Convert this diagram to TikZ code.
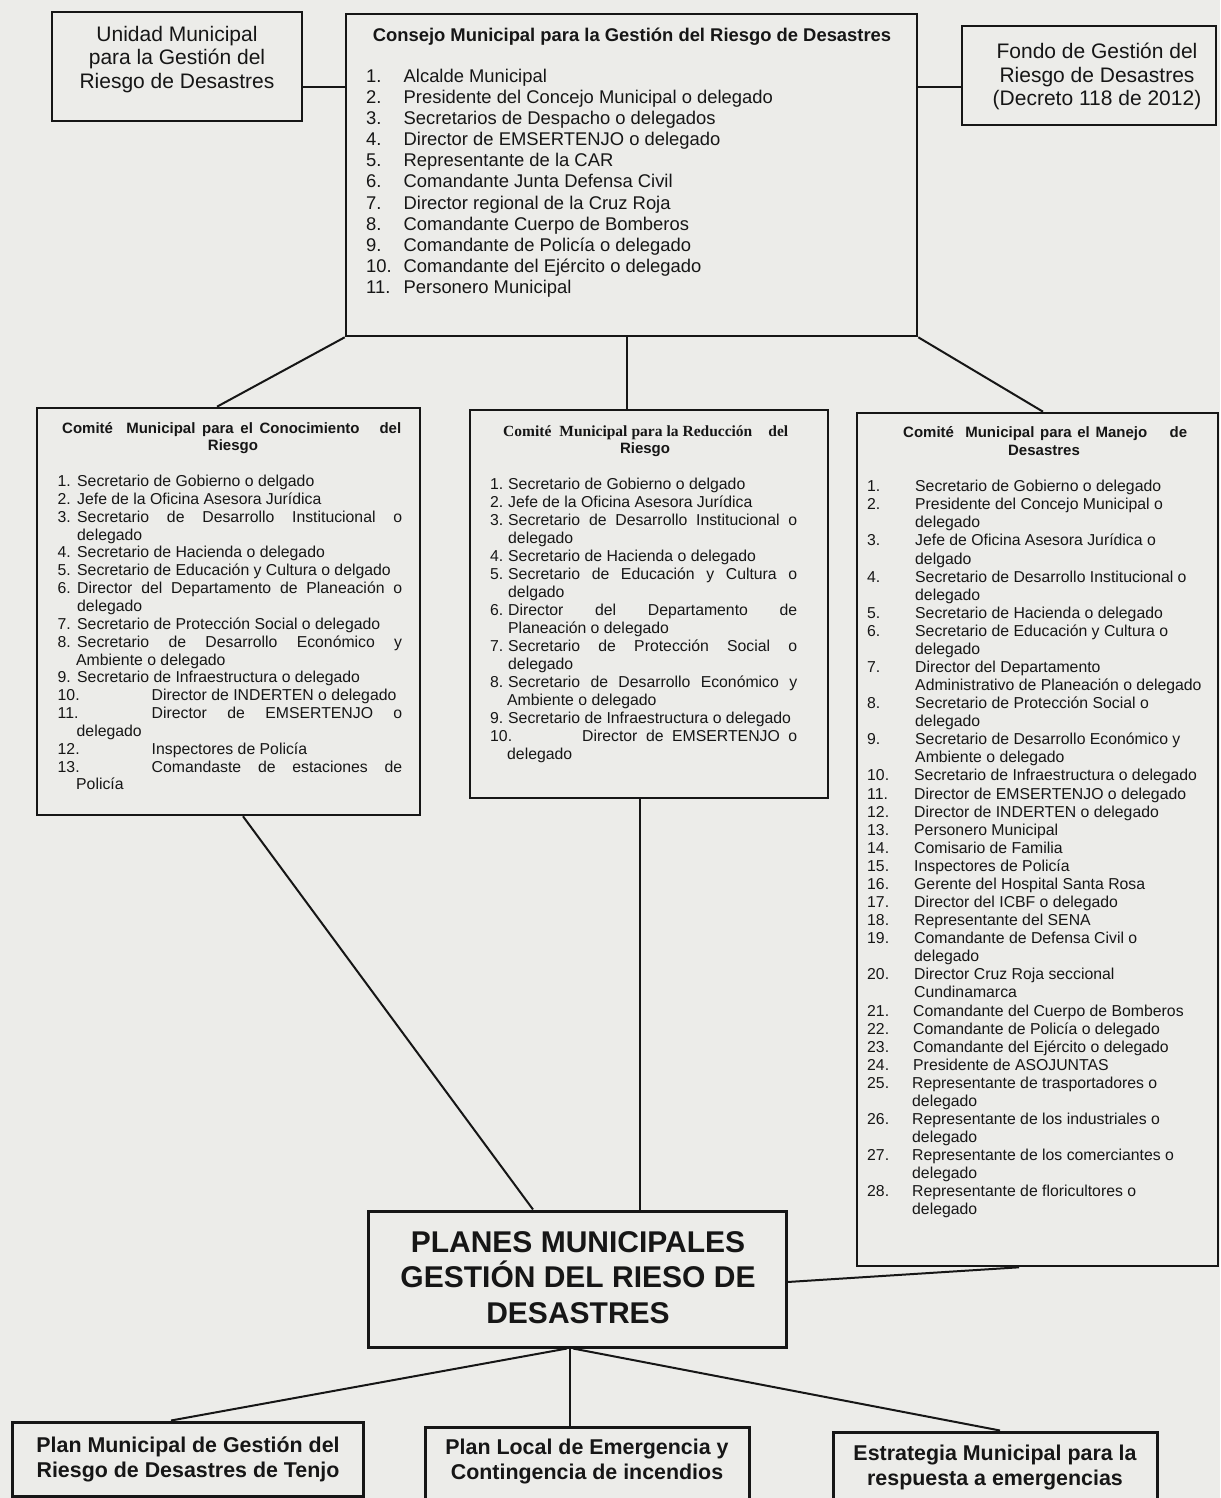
\documentclass[tikz,border=0pt]{standalone}
\usepackage{fontspec}
\setmainfont{Liberation Sans}
\newfontfamily\tnrfont{Liberation Serif}
\definecolor{bgc}{RGB}{236,236,233}
\definecolor{ink}{RGB}{22,22,22}
\newcommand\fsz[2]{\fontsize{#1pt}{#2pt}\selectfont}
\newcommand\litem[4]{\par\hangindent=#3pt\hangafter=1\noindent\makebox[#2pt][l]{#1}#4}
\begin{document}
\begin{tikzpicture}[x=1pt,y=-1pt,
  box/.style={draw=ink, line width=2.6pt, inner sep=0pt},
  bigbox/.style={draw=ink, line width=3pt, inner sep=0pt},
  conn/.style={draw=ink, line width=2pt},
  txt/.style={inner sep=0pt, text=ink},
]
\clip (0,0) rectangle (1220,1498);
\fill[bgc] (0,0) rectangle (1220,1498);

% ---------- boxes ----------
\node[box, minimum width=250pt, minimum height=109pt] (unidad) at (177,66.5) {};
\node[box, minimum width=571pt, minimum height=322pt] (consejo) at (631.5,175) {};
\node[box, minimum width=254pt, minimum height=99pt] (fondo) at (1089,75.5) {};
\node[box, minimum width=383pt, minimum height=407pt] (conoc) at (228.5,611.5) {};
\node[box, minimum width=358pt, minimum height=388pt] (reduc) at (649,604) {};
\node[box, minimum width=361pt, minimum height=853pt] (manejo) at (1037.5,839.5) {};
\node[bigbox, minimum width=418pt, minimum height=136pt] (planes) at (577,1279) {};
\node[bigbox, minimum width=351pt, minimum height=74pt] (pm) at (187.5,1459) {};
\node[bigbox, minimum width=324pt, minimum height=75pt] (pl) at (587,1464.5) {};
\node[bigbox, minimum width=324pt, minimum height=74pt] (est) at (995,1469) {};

% ---------- helper coordinates ----------
\coordinate (h87) at (0,87);
\coordinate (h1282) at (0,1282);
\coordinate (x217) at (217,0);
\coordinate (x627) at (627,0);
\coordinate (x1043) at (1043,0);
\coordinate (x243) at (243,0);
\coordinate (x533) at (533,0);
\coordinate (x640) at (640,0);
\coordinate (x1019) at (1019,0);
\coordinate (x567) at (567,0);
\coordinate (x171) at (171,0);
\coordinate (x570) at (570,0);
\coordinate (x573) at (573,0);
\coordinate (x1000) at (1000,0);

% ---------- connectors ----------
\draw[conn] (unidad.east |- h87) -- (consejo.west |- h87);
\draw[conn] (consejo.east |- h87) -- (fondo.west |- h87);
\draw[conn] (consejo.south west) -- (conoc.north -| x217);
\draw[conn] (consejo.south -| x627) -- (reduc.north -| x627);
\draw[conn] (consejo.south east) -- (manejo.north -| x1043);
\draw[conn] (conoc.south -| x243) -- (planes.north -| x533);
\draw[conn] (reduc.south -| x640) -- (planes.north -| x640);
\draw[conn] (planes.east |- h1282) -- (manejo.south -| x1019);
\draw[conn] (planes.south -| x567) -- (pm.north -| x171);
\draw[conn] (planes.south -| x570) -- (pl.north -| x570);
\draw[conn] (planes.south -| x573) -- (est.north -| x1000);

% ---------- top texts ----------
\node[txt, anchor=base] (tunidad) at (177,41.7) {\parbox[t]{240pt}{\centering\fsz{21}{23.3}Unidad Municipal\\para la Gestión del\\Riesgo de Desastres}};
\node[txt, anchor=base] (tfondo) at (1097,58.3) {\parbox[t]{240pt}{\centering\fsz{21}{23.8}Fondo de Gestión del\\Riesgo de Desastres\\(Decreto 118 de 2012)}};
\node[txt, anchor=base] (tconsejo) at (632,41.7) {\fsz{18.4}{21}\bfseries Consejo Municipal para la Gestión del Riesgo de Desastres};
\node[txt, anchor=base west] (lconsejo) at (366,82.5) {\parbox[t]{500pt}{\fsz{18.4}{21.1}%
\litem{1.}{37.5}{37.5}{Alcalde Municipal}
\litem{2.}{37.5}{37.5}{Presidente del Concejo Municipal o delegado}
\litem{3.}{37.5}{37.5}{Secretarios de Despacho o delegados}
\litem{4.}{37.5}{37.5}{Director de EMSERTENJO o delegado}
\litem{5.}{37.5}{37.5}{Representante de la CAR}
\litem{6.}{37.5}{37.5}{Comandante Junta Defensa Civil}
\litem{7.}{37.5}{37.5}{Director regional de la Cruz Roja}
\litem{8.}{37.5}{37.5}{Comandante Cuerpo de Bomberos}
\litem{9.}{37.5}{37.5}{Comandante de Policía o delegado}
\litem{10.}{37.5}{37.5}{Comandante del Ejército o delegado}
\litem{11.}{37.5}{37.5}{Personero Municipal}}};

% ---------- Comité Conocimiento ----------
\node[txt, anchor=base west] (hc1) at (62,433.3) {\fsz{15}{18}\bfseries\makebox[339pt][s]{Comité\ \ Municipal para el Conocimiento\ \ \ del}};
\node[txt, anchor=base] (hc2) at (233,450.7) {\fsz{15}{18}\bfseries Riesgo};
\node[txt, anchor=base west] (lconoc) at (57.5,486.5) {\parbox[t]{344.5pt}{\tolerance=10000\hbadness=10000\fsz{15.8}{17.85}%
\litem{1.}{19.5}{19.5}{Secretario de Gobierno o delgado}
\litem{2.}{19.5}{19.5}{Jefe de la Oficina Asesora Jurídica}
\litem{3.}{19.5}{19.5}{Secretario de Desarrollo Institucional o\linebreak delegado}
\litem{4.}{19.5}{19.5}{Secretario de Hacienda o delegado}
\litem{5.}{19.5}{19.5}{Secretario de Educación y Cultura o delgado}
\litem{6.}{19.5}{19.5}{Director del Departamento de Planeación o\linebreak delegado}
\litem{7.}{19.5}{19.5}{Secretario de Protección Social o delegado}
\litem{8.}{19.5}{18.5}{Secretario de Desarrollo Económico y\linebreak Ambiente o delegado}
\litem{9.}{19.5}{19.5}{Secretario de Infraestructura o delegado}
\litem{10.}{94}{19}{Director de INDERTEN o delegado}
\litem{11.}{94}{19}{Director de EMSERTENJO o\linebreak delegado}
\litem{12.}{94}{19}{Inspectores de Policía}
\litem{13.}{94}{18.5}{Comandaste de estaciones de\linebreak Policía}}};

% ---------- Comité Reducción ----------
\node[txt, anchor=base west] (hr1) at (503,436) {\tnrfont\bfseries\fsz{15.5}{18}\makebox[285pt][s]{Comité\ \ Municipal para la Reducción\ \ \ \ del}};
\node[txt, anchor=base] (hr2) at (645,453.3) {\fsz{15}{18}\bfseries Riesgo};
\node[txt, anchor=base west] (lreduc) at (490,489.3) {\parbox[t]{307pt}{\tolerance=10000\hbadness=10000\fsz{15.8}{18}%
\litem{1.}{18}{18}{Secretario de Gobierno o delgado}
\litem{2.}{18}{18}{Jefe de la Oficina Asesora Jurídica}
\litem{3.}{18}{18}{Secretario de Desarrollo Institucional o\linebreak delegado}
\litem{4.}{18}{18}{Secretario de Hacienda o delegado}
\litem{5.}{18}{18}{Secretario de Educación y Cultura o\linebreak delgado}
\litem{6.}{18}{18}{Director del Departamento de\linebreak Planeación o delegado}
\litem{7.}{18}{18}{Secretario de Protección Social o\linebreak delegado}
\litem{8.}{18}{17}{Secretario de Desarrollo Económico y\linebreak Ambiente o delegado}
\litem{9.}{18}{18}{Secretario de Infraestructura o delegado}
\litem{10.}{92}{17}{Director de EMSERTENJO o\linebreak delegado}}};

% ---------- Comité Manejo ----------
\node[txt, anchor=base west] (hm1) at (903,437.3) {\fsz{15}{18}\bfseries\makebox[284pt][s]{Comité\ \ Municipal para el Manejo\ \ \ \ de}};
\node[txt, anchor=base] (hm2) at (1044,455) {\fsz{15}{18}\bfseries Desastres};
\node[txt, anchor=base west] (lmanejo) at (867,491.7) {\parbox[t]{345pt}{\raggedright\tolerance=10000\hbadness=10000\fsz{15.8}{18.08}%
\litem{1.}{48}{48}{Secretario de Gobierno o delegado}
\litem{2.}{48}{48}{Presidente del Concejo Municipal o\newline delegado}
\litem{3.}{48}{48}{Jefe de Oficina Asesora Jurídica o\newline delgado}
\litem{4.}{48}{48}{Secretario de Desarrollo Institucional o\newline delegado}
\litem{5.}{48}{48}{Secretario de Hacienda o delegado}
\litem{6.}{48}{48}{Secretario de Educación y Cultura o\newline delegado}
\litem{7.}{48}{48}{Director del Departamento\newline Administrativo de Planeación o delegado}
\litem{8.}{48}{48}{Secretario de Protección Social o\newline delegado}
\litem{9.}{48}{48}{Secretario de Desarrollo Económico y\newline Ambiente o delegado}
\litem{10.}{47}{47}{Secretario de Infraestructura o delegado}
\litem{11.}{47}{47}{Director de EMSERTENJO o delegado}
\litem{12.}{47}{47}{Director de INDERTEN o delegado}
\litem{13.}{47}{47}{Personero Municipal}
\litem{14.}{47}{47}{Comisario de Familia}
\litem{15.}{47}{47}{Inspectores de Policía}
\litem{16.}{47}{47}{Gerente del Hospital Santa Rosa}
\litem{17.}{47}{47}{Director del ICBF o delegado}
\litem{18.}{47}{47}{Representante del SENA}
\litem{19.}{47}{47}{Comandante de Defensa Civil o\newline delegado}
\litem{20.}{47}{47}{Director Cruz Roja seccional\newline Cundinamarca}
\litem{21.}{46}{46}{Comandante del Cuerpo de Bomberos}
\litem{22.}{46}{46}{Comandante de Policía o delegado}
\litem{23.}{46}{46}{Comandante del Ejército o delegado}
\litem{24.}{46}{46}{Presidente de ASOJUNTAS}
\litem{25.}{45}{45}{Representante de trasportadores o\newline delegado}
\litem{26.}{45}{45}{Representante de los industriales o\newline delegado}
\litem{27.}{45}{45}{Representante de los comerciantes o\newline delegado}
\litem{28.}{45}{45}{Representante de floricultores o\newline delegado}}};

% ---------- Planes ----------
\node[txt, anchor=base] (tplanes) at (578,1252) {\parbox[t]{410pt}{\centering\fsz{30}{35.5}\bfseries PLANES MUNICIPALES\\GESTIÓN DEL RIESO DE\\DESASTRES}};
\node[txt, anchor=base] (tpm) at (188,1452) {\parbox[t]{345pt}{\centering\fsz{21.4}{25}\bfseries Plan Municipal de Gestión del\\Riesgo de Desastres de Tenjo}};
\node[txt, anchor=base] (tpl) at (587,1454) {\parbox[t]{320pt}{\centering\fsz{21.4}{25}\bfseries Plan Local de Emergencia y\\Contingencia de incendios}};
\node[txt, anchor=base] (test) at (995,1460) {\parbox[t]{320pt}{\centering\fsz{21.4}{25}\bfseries Estrategia Municipal para la\\respuesta a emergencias}};
\end{tikzpicture}
\end{document}
